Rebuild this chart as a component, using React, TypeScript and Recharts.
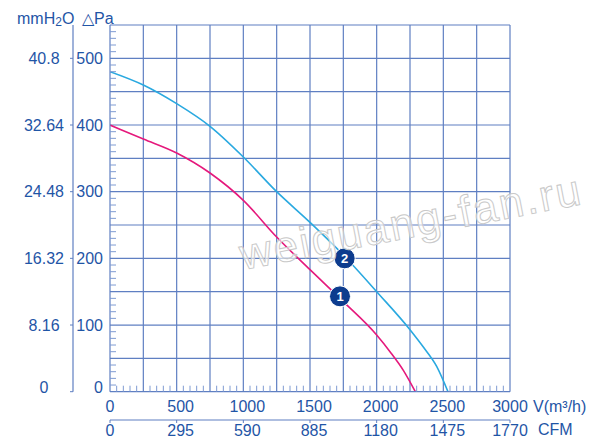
import {
  LineChart,
  Line,
  XAxis,
  YAxis,
  ReferenceLine,
  ReferenceDot,
} from 'recharts';

// curve 1 (magenta) and curve 2 (light blue)
const FLOW_1 = [0, 250, 500, 750, 1000, 1250, 1500, 1750, 2000, 2100, 2200, 2290];
const PRESSURE_1 = [400, 379, 358, 328, 287, 232, 183, 135, 85, 60, 32, 0];

const FLOW_2 = [0, 250, 500, 750, 1000, 1250, 1500, 1750, 2000, 2250, 2350, 2450, 2535];
const PRESSURE_2 = [480, 460, 432, 398, 352, 300, 254, 205, 150, 93, 67, 38, 0];

// axis labels
const FLOW_LABELS = [0, 500, 1000, 1500, 2000, 2500, 3000];
const CFM_LABELS = [0, 295, 590, 885, 1180, 1475, 1770];
const PA_LABELS = [0, 100, 200, 300, 400, 500];
const MM_LABELS = [0, 8.16, 16.32, 24.48, 32.64, 40.8];

// grid positions
const FLOW_GRID = [250, 500, 750, 1000, 1250, 1500, 1750, 2000, 2250, 2500, 2750, 3000];
const PA_GRID = [50, 100, 150, 200, 250, 300, 350, 400, 450, 500, 550];

// curve number markers
const MARKERS = [
  { name: '1', v: 1725, p: 143 },
  { name: '2', v: 1760, p: 200 },
];

const FLOW_MINOR: number[] = [];
for (let v = 0; v <= 3000; v += 50) FLOW_MINOR.push(v);
const PA_MINOR: number[] = [];
for (let p = 0; p <= 550; p += 10) PA_MINOR.push(p);

const TEXT = '#1f55a6';
const GRID = '#5f7fc2';
const TICK = '#7f9bd2';
const FONT = '"Liberation Sans", Arial, sans-serif';
const FS = 16;

const curve1 = FLOW_1.map((v, i) => ({ v, p: PRESSURE_1[i] }));
const curve2 = FLOW_2.map((v, i) => ({ v, p: PRESSURE_2[i] }));

function FlowTick({ x, y, payload }: any) {
  const v = payload.value;
  if (FLOW_LABELS.includes(v)) {
    const dx = v === 0 || v === 3000 ? 0 : 4;
    return (
      <text x={x + dx} y={y + 15} dy="0.36em" textAnchor="middle" fill={TEXT} fontSize={FS} fontFamily={FONT}>
        {v}
      </text>
    );
  }
  if (v % 250 === 0) return <g />;
  return <line x1={x} x2={x} y1={y} y2={y - 6} stroke={TICK} strokeWidth={1} />;
}

function CfmTick({ x, y, payload }: any) {
  const v = payload.value;
  const dx = v === 0 || v === 1770 ? 0 : 4;
  return (
    <text x={x + dx} y={y} dy="0.36em" textAnchor="middle" fill={TEXT} fontSize={FS} fontFamily={FONT}>
      {v}
    </text>
  );
}

function PaTick({ x, y, payload }: any) {
  const v = payload.value;
  return (
    <g>
      {PA_LABELS.includes(v) && (
        <text x={x} y={v === 0 ? y - 4 : y} dy="0.36em" textAnchor="end" fill={TEXT} fontSize={FS} fontFamily={FONT}>
          {v}
        </text>
      )}
      {v % 50 !== 0 && <line x1={x + 7} x2={x + 13} y1={y} y2={y} stroke={TICK} strokeWidth={1} />}
    </g>
  );
}

function MmTick({ x, y, payload }: any) {
  const v = payload.value;
  return (
    <text x={x} y={v === 0 ? y - 4 : y} dy="0.36em" textAnchor="middle" fill={TEXT} fontSize={FS} fontFamily={FONT}>
      {v}
    </text>
  );
}

export default function App() {
  return (
    <div style={{ position: 'absolute', left: 0, top: 0, width: 600, height: 445, background: '#fff' }}>
      <LineChart width={600} height={445} margin={{ top: 25, right: 90, bottom: 0, left: 0 }}>
        {/* outer axes are declared first */}
        <XAxis
          xAxisId="b_cfm"
          dataKey="cfm"
          type="number"
          domain={[0, 1770]}
          ticks={CFM_LABELS}
          interval={0}
          height={25}
          tickSize={3}
          tickMargin={7}
          tickLine={{ stroke: GRID }}
          axisLine={{ stroke: GRID, strokeWidth: 1.2 }}
          tick={<CfmTick />}
          allowDataOverflow
        />
        <XAxis
          xAxisId="a_flow"
          dataKey="v"
          type="number"
          domain={[0, 3000]}
          ticks={FLOW_MINOR}
          interval={0}
          height={28.3}
          tickSize={0}
          tickMargin={0}
          tickLine={false}
          axisLine={{ stroke: GRID, strokeWidth: 1.2 }}
          tick={<FlowTick />}
          allowDataOverflow
        />
        <YAxis
          yAxisId="b_mm"
          dataKey="mm"
          type="number"
          domain={[0, 44.88]}
          ticks={MM_LABELS}
          interval={0}
          width={73}
          tickSize={3}
          tickMargin={26}
          tickLine={{ stroke: GRID }}
          axisLine={{ stroke: GRID, strokeWidth: 1.2 }}
          tick={<MmTick />}
          allowDataOverflow
        />
        <YAxis
          yAxisId="a_pa"
          type="number"
          domain={[0, 550]}
          ticks={PA_MINOR}
          interval={0}
          width={37}
          tickSize={0}
          tickMargin={7}
          tickLine={false}
          axisLine={{ stroke: GRID, strokeWidth: 1.2 }}
          tick={<PaTick />}
          allowDataOverflow
        />

        {FLOW_GRID.map((v) => (
          <ReferenceLine key={'gx' + v} xAxisId="a_flow" yAxisId="a_pa" x={v} stroke={GRID} strokeWidth={1.2} />
        ))}
        {PA_GRID.map((p) => (
          <ReferenceLine key={'gy' + p} xAxisId="a_flow" yAxisId="a_pa" y={p} stroke={GRID} strokeWidth={1.2} />
        ))}

        <Line
          xAxisId="a_flow"
          yAxisId="a_pa"
          data={curve1}
          dataKey="p"
          type="monotone"
          stroke="#e5197c"
          strokeWidth={1.6}
          dot={false}
          isAnimationActive={false}
        />
        <Line
          xAxisId="a_flow"
          yAxisId="a_pa"
          data={curve2}
          dataKey="p"
          type="monotone"
          stroke="#2aa9e0"
          strokeWidth={1.6}
          dot={false}
          isAnimationActive={false}
        />

        {MARKERS.map((m) => (
          <ReferenceDot
            key={m.name}
            xAxisId="a_flow"
            yAxisId="a_pa"
            x={m.v}
            y={m.p}
            r={10.5}
            fill="#0d3c8e"
            stroke="#ffffff"
            strokeWidth={1}
            label={{ value: m.name, position: 'center', fill: '#ffffff', fontSize: 13, fontWeight: 'bold', fontFamily: FONT }}
          />
        ))}
      </LineChart>

      <svg
        width={600}
        height={445}
        style={{ position: 'absolute', left: 0, top: 0, pointerEvents: 'none' }}
        fontFamily={FONT}
      >
        <text x={17} y={24} fill={TEXT} fontSize={FS}>
          mmH
          <tspan fontSize={12} dy={2}>
            2
          </tspan>
          <tspan dy={-2}>O</tspan>
        </text>
        <text x={82} y={24} fill={TEXT} fontSize={FS}>
          △Pa
        </text>
        <text x={533} y={412} fill={TEXT} fontSize={FS}>
          V(m³/h)
        </text>
        <text x={538} y={435} fill={TEXT} fontSize={FS}>
          CFM
        </text>
        <text
          x={243}
          y={270}
          fontSize={44}
          textLength={346}
          lengthAdjust="spacing"
          fill="#ffffff"
          fillOpacity={0.6}
          stroke="#c9c9c9"
          strokeWidth={1}
          transform="rotate(-11 243 270)"
        >
          weiguang-fan.ru
        </text>
      </svg>
    </div>
  );
}
